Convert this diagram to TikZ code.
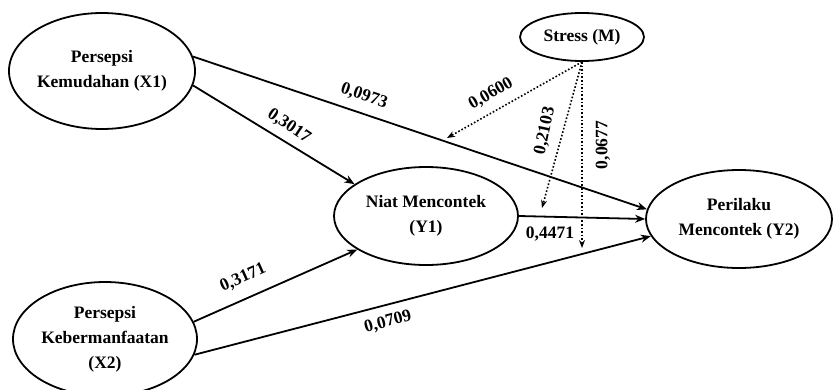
\documentclass[tikz,border=0pt]{standalone}
\usepackage{fontspec}
\setmainfont{Liberation Serif}
\usetikzlibrary{shapes.geometric,arrows.meta}
\begin{document}
\begin{tikzpicture}[x=1pt,y=-1pt,
  every node/.style={font=\fontsize{17.5}{25}\selectfont\bfseries},
  latent/.style={ellipse,draw,line width=1.8pt,inner sep=0pt,align=center},
  path/.style={line width=1.8pt,-{Stealth[length=10pt,width=8pt]}},
  mod/.style={line width=1.6pt,dotted,-{Stealth[length=8pt,width=6pt]}},
  coef/.style={inner sep=0pt}]
\useasboundingbox (0,0) rectangle (833,389);
\node[latent,minimum width=186pt,minimum height=116pt] (x1) at (102,71) {Persepsi\\Kemudahan (X1)};
\node[latent,minimum width=184pt,minimum height=114pt] (x2) at (105,339) {Persepsi\\Kebermanfaatan\\(X2)};
\node[latent,minimum width=184pt,minimum height=98pt] (y1) at (426,216) {Niat Mencontek\\(Y1)};
\node[latent,minimum width=186pt,minimum height=98pt] (y2) at (739,219) {Perilaku\\Mencontek (Y2)};
\node[latent,minimum width=124pt,minimum height=48pt] (m) at (582,37) {Stress (M)};
\coordinate (m1) at (447,138);
\coordinate (m2) at (542,208);
\coordinate (m3) at (582,248);
\draw[path] (x1.9) -- (y2.174.5);
\draw[path] (x1.-9) -- (y1.156);
\draw[path] (y1.0) -- (y2.180);
\draw[path] (x2.11) -- (y1.206);
\draw[path] (x2.-10) -- (y2.191);
\draw[mod] (m.south) -- (m1);
\draw[mod] (m.south) -- (m2);
\draw[mod] (m.south) -- (m3);
\node[coef,rotate=-19] (c1) at (364,96) {0,0973};
\node[coef,rotate=-34] (c2) at (289,126) {0,3017};
\node[coef,rotate=30] (c3) at (491,94) {0,0600};
\node[coef,rotate=78] (c4) at (545,131) {0,2103};
\node[coef,rotate=90] (c5) at (603,145) {0,0677};
\node[coef] (c6) at (550,234) {0,4471};
\node[coef,rotate=24] (c7) at (243,278) {0,3171};
\node[coef,rotate=15] (c8) at (388,322) {0,0709};
\end{tikzpicture}
\end{document}
